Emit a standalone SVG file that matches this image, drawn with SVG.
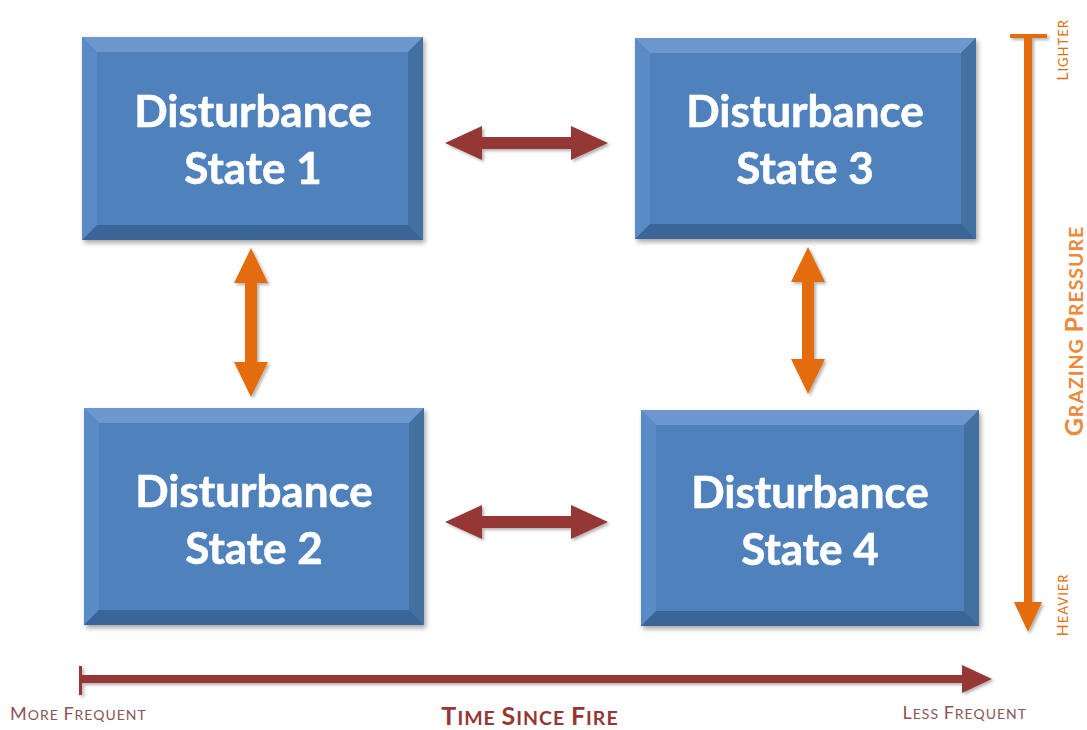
<svg xmlns="http://www.w3.org/2000/svg" width="1087" height="730" viewBox="0 0 1087 730">
<defs>
<filter id="sh" x="-10%" y="-10%" width="130%" height="130%">
<feDropShadow dx="2" dy="3" stdDeviation="2.5" flood-color="#000" flood-opacity="0.35"/>
</filter>
<filter id="sh2" x="-20%" y="-20%" width="150%" height="150%">
<feDropShadow dx="2" dy="2" stdDeviation="1.8" flood-color="#000" flood-opacity="0.3"/>
</filter>
</defs>
<style>
.face{fill:#4f81bd}
.bt{fill:#6c98cf}
.bl{fill:#5a8bc7}
.br{fill:#42709f}
.bb{fill:#3a6597}
.lbl{font-family:Lato,"Open Sans","Liberation Sans",sans-serif;font-weight:700;font-size:44px;fill:#fff;stroke:#fff;stroke-width:0.6;text-anchor:middle}
.red{fill:#953735}
.org{fill:#e46c0a}
.ax{font-family:Lato,"Open Sans","Liberation Sans",sans-serif;letter-spacing:1px}
</style>
<rect width="1087" height="730" fill="#fff"/>

<g id="node1" filter="url(#sh)">
<rect class="face" x="82" y="37" width="341" height="203"/>
<polygon class="bt" points="82,37 423,37 408,52 97,52"/>
<polygon class="bl" points="82,37 97,52 97,225 82,240"/>
<polygon class="br" points="423,37 423,240 408,225 408,52"/>
<polygon class="bb" points="82,240 97,225 408,225 423,240"/>
<text class="lbl" x="253" y="127">Disturbance</text>
<text class="lbl" x="253" y="184">State 1</text>
</g>
<g id="node3" filter="url(#sh)">
<rect class="face" x="635" y="38" width="341" height="201"/>
<polygon class="bt" points="635,38 976,38 961,53 650,53"/>
<polygon class="bl" points="635,38 650,53 650,224 635,239"/>
<polygon class="br" points="976,38 976,239 961,224 961,53"/>
<polygon class="bb" points="635,239 650,224 961,224 976,239"/>
<text class="lbl" x="805" y="127">Disturbance</text>
<text class="lbl" x="805" y="184">State 3</text>
</g>
<g id="node2" filter="url(#sh)">
<rect class="face" x="84" y="408" width="340" height="217"/>
<polygon class="bt" points="84,408 424,408 409,423 99,423"/>
<polygon class="bl" points="84,408 99,423 99,610 84,625"/>
<polygon class="br" points="424,408 424,625 409,610 409,423"/>
<polygon class="bb" points="84,625 99,610 409,610 424,625"/>
<text class="lbl" x="254" y="507">Disturbance</text>
<text class="lbl" x="254" y="564">State 2</text>
</g>
<g id="node4" filter="url(#sh)">
<rect class="face" x="641" y="410" width="338" height="216"/>
<polygon class="bt" points="641,410 979,410 964,425 656,425"/>
<polygon class="bl" points="641,410 656,425 656,611 641,626"/>
<polygon class="br" points="979,410 979,626 964,611 964,425"/>
<polygon class="bb" points="641,626 656,611 964,611 979,626"/>
<text class="lbl" x="810" y="508">Disturbance</text>
<text class="lbl" x="810" y="565">State 4</text>
</g>

<g id="connectors" filter="url(#sh2)">
<polygon class="red" points="445,143 482,126 482,137 571,137 571,126 608,143 571,160 571,149 482,149 482,160"/>
<polygon class="red" points="445,522 482,505 482,516 571,516 571,505 608,522 571,539 571,528 482,528 482,539"/>
<polygon class="org" points="251,248 268,283 257,283 257,362 268,362 251,397 234,362 245,362 245,283 234,283"/>
<polygon class="org" points="808,247 825,282 814,282 814,359 825,359 808,394 791,359 802,359 802,282 791,282"/>
</g>

<g id="grazing-axis">
<g filter="url(#sh2)">
<rect class="org" x="1010" y="34" width="37" height="4"/>
<rect class="org" x="1024" y="34" width="8" height="572"/>
<polygon class="org" points="1014,602 1042,602 1028,632"/>
</g>
<text class="ax" transform="translate(1068,50) rotate(-90)" text-anchor="middle" fill="#e46c0a" font-size="16"><tspan>L</tspan><tspan font-size="13">IGHTER</tspan></text>
<text class="ax" transform="translate(1068,605) rotate(-90)" text-anchor="middle" fill="#e46c0a" font-size="16"><tspan>H</tspan><tspan font-size="13">EAVIER</tspan></text>
<text class="ax" transform="translate(1083,331) rotate(-90)" text-anchor="middle" fill="#ec8a3a" font-weight="700" font-size="25"><tspan>G</tspan><tspan font-size="19.5">RAZING </tspan><tspan>P</tspan><tspan font-size="19.5">RESSURE</tspan></text>
</g>

<g id="time-axis">
<g filter="url(#sh2)">
<rect class="red" x="79" y="666" width="3" height="29"/>
<rect class="red" x="80" y="675" width="886" height="8"/>
<polygon class="red" points="962,665 992,679 962,693"/>
</g>
<text class="ax" x="10" y="720" fill="#8a5555" font-size="18"><tspan>M</tspan><tspan font-size="14">ORE </tspan><tspan>F</tspan><tspan font-size="14">REQUENT</tspan></text>
<text class="ax" x="1027" y="719" text-anchor="end" fill="#8a5555" font-size="18"><tspan>L</tspan><tspan font-size="14">ESS </tspan><tspan>F</tspan><tspan font-size="14">REQUENT</tspan></text>
<text class="ax" x="530" y="725" text-anchor="middle" fill="#953735" font-weight="700" font-size="25"><tspan>T</tspan><tspan font-size="19.5">IME </tspan><tspan>S</tspan><tspan font-size="19.5">INCE </tspan><tspan>F</tspan><tspan font-size="19.5">IRE</tspan></text>
</g>
</svg>
